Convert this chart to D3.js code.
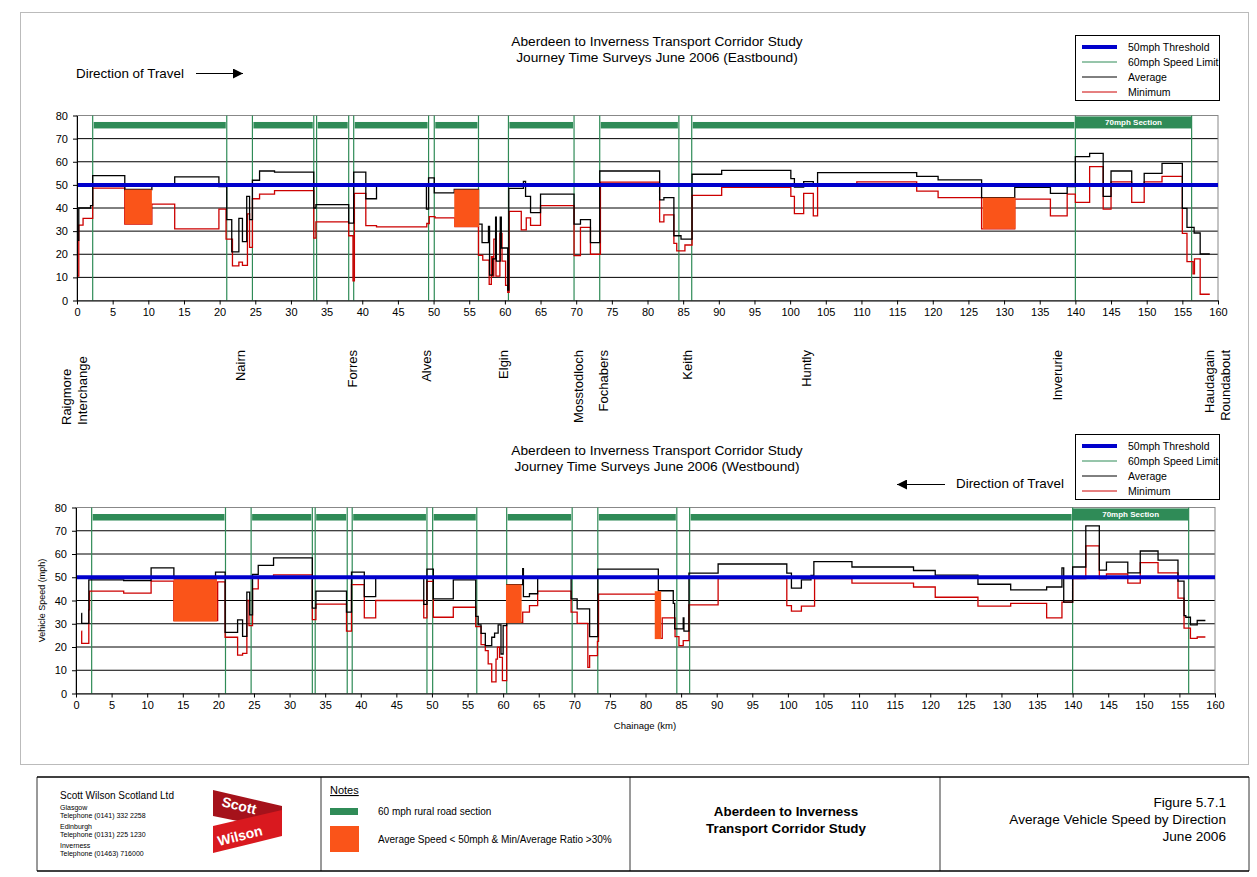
<!DOCTYPE html>
<html><head><meta charset="utf-8">
<script src="https://cdn.jsdelivr.net/npm/d3@7"></script>
<style>body{margin:0;background:#fff;} svg{display:block;font-family:Arial,"Liberation Sans",sans-serif;}</style>
</head><body><svg id="c" width="1257" height="877"></svg>
<script>
// ---------- data ----------
const xTicks = d3.range(0, 161, 5);
const yTicks = d3.range(0, 81, 10);
const threshold = 50;
const limitBoundaries = [2.2, 21, 24.6, 33.2, 33.6, 38.1, 38.8, 49.3, 50.1, 56.3, 60.5, 69.7, 73.3, 84.4, 86.2, 140, 156.3];
const ruralSections = [[2.2, 21], [24.6, 33.2], [33.6, 38.1], [38.8, 49.3], [50.1, 56.3], [60.5, 69.7], [73.3, 84.4], [86.2, 140]];
const section70 = [140, 156.3];
const legendLabels = ["50mph Threshold", "60mph Speed Limit", "Average", "Minimum"];

const eastAvg = [[0.1,26],[0.25,40],[1.9,41],[2.2,54],[6.7,48],[10.5,50],[13.7,53.5],[19.9,49.3],[21.0,35],[21.7,21],[22.7,35.5],[23.2,25.5],[23.8,45],[24.2,35],[24.6,52],[25.6,56],[27.7,55.5],[33.2,40],[33.5,41.5],[38.1,33.5],[38.8,55.5],[40.5,44],[42.0,50],[49.0,39.5],[49.3,53],[50.1,46.5],[52.9,48],[56.3,33],[56.8,25],[57.7,32],[57.85,11],[58.3,18],[58.7,36],[58.8,17],[59.35,36],[59.5,22.7],[60.4,4.5],[60.55,48.5],[62.6,51.5],[62.9,45],[63.6,38],[65.0,46],[69.7,33],[70.6,35],[72.0,25],[73.3,56],[81.7,43.5],[82.3,44.5],[83.7,28],[84.7,26.5],[86.25,54.6],[90.4,56.3],[100.1,52.7],[100.6,49],[101.9,51.4],[103.25,49.5],[103.85,55.3],[117.75,53.7],[120.75,52.2],[126.85,44.5],[131.5,48.9],[136.5,46.3],[138.85,49.3],[140,62.2],[142,63.6],[143.9,45],[145,56],[147.9,49.9],[149.65,55],[152.15,59.3],[155,39.8],[155.65,31.6],[156.65,29.2],[157.5,20.1],[158.85,20.1]];
const eastMin = [[0.1,10.5],[0.25,32.6],[0.85,35.5],[2.2,48.6],[6.7,33],[10.5,41.7],[13.7,31],[19.9,39.5],[20.9,26.5],[21.8,15],[22.7,16.6],[23.2,15.2],[23.9,37.5],[24.2,23],[24.6,44],[25.6,46],[27.7,47.5],[33.2,27],[33.5,34],[38.1,28],[38.7,8.5],[38.9,46.3],[40.5,32.4],[42.0,31.8],[49.05,33.3],[49.4,36.3],[50.2,35.7],[53.0,32],[56.3,19.5],[56.9,17.5],[57.8,7],[58.1,19],[58.3,10.5],[58.45,26.5],[58.75,10.5],[59.3,29],[59.6,17],[60.1,6.5],[60.4,3.5],[60.6,38.5],[62.3,30.5],[63.0,35.7],[63.6,32.5],[65.0,41],[69.7,19.4],[70.6,31.6],[72.0,20],[73.4,51.2],[81.7,34],[82.3,37],[83.7,24.7],[84.1,21.5],[85.25,24],[86.25,45.5],[90.4,48.9],[100.1,45],[100.6,37.6],[101.9,46.3],[103.25,36.6],[103.85,49.6],[109.35,51.3],[117.75,47.3],[120.75,44.5],[126.85,31],[131.5,43.8],[136.5,36.6],[138.85,46],[140,42.4],[142,57.9],[143.9,39.5],[145,51.3],[147.9,42.4],[149.65,51.3],[152.15,53.7],[155,29],[155.65,16.8],[156.5,11.5],[156.7,18],[157.5,2.7],[158.85,2.7]];
const eastFlags = [[6.7,10.5,33,48],[52.9,56.4,31.8,48],[127,131.6,31,44.5]];

const westAvg = [[0.75,34.5],[0.8,30.2],[1.8,48.9],[6.7,48.6],[10.55,54],[13.75,50],[19.6,52.2],[20.95,26.3],[22.7,31.7],[23.4,24.6],[24.0,43.6],[24.4,33.8],[24.8,51.2],[25.6,55.1],[27.75,58.3],[33.2,36.7],[33.7,44],[38.0,35],[38.7,52.2],[40.5,41.7],[42.1,50],[48.85,38.3],[49.3,53.5],[50.2,40.7],[53.0,48.9],[56.15,33.2],[56.5,29.5],[56.9,25.9],[57.5,20.6],[58.4,24.2],[58.8,26],[59.3,29.5],[59.7,17],[60.0,29.2],[60.5,46.8],[62.75,53.7],[62.85,41.7],[63.7,42.9],[64.85,50],[69.55,40.7],[70.4,36.4],[72.15,24.5],[73.3,53.5],[81.8,44.2],[83.9,38.8],[84.1,27.8],[85.3,32.5],[85.4,26.8],[86.1,51.8],[90.2,55.7],[99.85,51.8],[100.5,45.3],[101.9,48.9],[103.25,50.8],[103.65,56.7],[109.0,54.4],[117.65,52.9],[120.7,50.9],[126.7,47],[131.3,44.6],[136.35,45.8],[138.5,54],[138.75,39.3],[140,54.4],[141.85,72.1],[143.75,53.1],[144.75,56.5],[147.75,51.9],[149.5,61.3],[152,57.4],[154.8,48.3],[155.65,33.5],[155.9,32.8],[156.55,29.5],[157.5,31.4],[158.65,31.4]];
const westMin = [[0.75,26.8],[0.8,21.6],[1.8,36],[1.9,44],[6.7,43.2],[10.55,48.3],[13.75,31.4],[19.9,48],[20.95,24.2],[22.7,16.5],[23.4,17.3],[24.0,40],[24.3,29.2],[24.8,45],[25.6,49.6],[27.75,51],[33.2,31.8],[33.7,38.4],[38.0,26.8],[38.7,46.8],[40.5,32.5],[42.1,40],[48.85,32.5],[49.3,48.2],[50.2,32.8],[53.0,37.1],[56.15,28.8],[56.9,21],[57.5,18.4],[57.9,12.7],[58.4,5],[59.0,14.8],[59.2,19.9],[59.5,15.5],[59.9,5.5],[60.5,30.6],[62.75,35],[63.7,37.8],[64.85,44],[69.55,35],[70.4,30.2],[71.9,11.2],[72.15,16.3],[73.25,22.4],[73.4,42.7],[81.8,23.7],[82.35,32.5],[84.15,24.5],[84.7,20.6],[85.3,22.7],[86.1,38.1],[90.2,49.4],[99.85,37.8],[100.5,35.4],[101.9,37.6],[103.75,49.4],[109,47.5],[117.65,45.8],[120.7,41.4],[126.7,37.6],[131.3,38.8],[136.35,32.5],[138.5,39.3],[140,49.4],[141.85,63.5],[143.75,49.4],[144.75,51.4],[147.75,47.5],[149.5,56.3],[152,51.9],[154.8,41],[155.65,28.1],[156.55,23.7],[157.5,24.3],[158.65,24.3]];
const westFlags = [[13.7,19.8,31,49.9],[60.4,62.6,30.3,46.9],[81.3,82.2,23.4,44]];

const townNames = [["Raigmore","Interchange"],["Nairn"],["Forres"],["Alves"],["Elgin"],["Mosstodloch"],["Fochabers"],["Keith"],["Huntly"],["Inverurie"],["Haudagain","Roundabout"]];
const townKm = [-0.4, 22.9, 38.6, 49.0, 59.8, 70.2, 73.8, 85.6, 102.2, 137.4, 159.8];

// ---------- drawing ----------
const svg = d3.select("#c");
const GREEN = "#2f8b57", ORANGE = "#fa5419", BLUE = "#0000cc", RED = "#cc0000";

svg.append("rect").attr("x",20.5).attr("y",12.5).attr("width",1228).attr("height",752)
  .attr("fill","none").attr("stroke","#bbb").attr("stroke-width",1);

function drawChart(o) {
  const x = d3.scaleLinear([0,160],[o.x0,o.x1]);
  const y = d3.scaleLinear([0,80],[o.yB,o.yT]);
  const g = svg.append("g");
  g.selectAll(".grid").data(yTicks.filter(v=>v>0 && v<80)).join("line")
    .attr("x1",o.x0).attr("x2",o.x1).attr("y1",d=>y(d)).attr("y2",d=>y(d))
    .attr("stroke","#000").attr("stroke-width",1);
  g.append("rect").attr("x",o.x0).attr("y",y(80)).attr("width",o.x1-o.x0).attr("height",y(0)-y(80))
    .attr("fill","none").attr("stroke","#888");
  g.selectAll(".lim").data(limitBoundaries).join("line")
    .attr("x1",d=>x(d)).attr("x2",d=>x(d)).attr("y1",y(0)).attr("y2",y(80))
    .attr("stroke",GREEN).attr("stroke-width",1.2);
  const line = d3.line().x(d=>x(d[0])).y(d=>y(d[1])).curve(d3.curveStepAfter);
  g.append("path").attr("d",line(o.min)).attr("fill","none").attr("stroke",RED).attr("stroke-width",1.3);
  g.append("path").attr("d",line(o.avg)).attr("fill","none").attr("stroke","#000").attr("stroke-width",1.3);
  g.selectAll(".flag").data(o.flags).join("rect")
    .attr("x",d=>x(d[0])).attr("width",d=>x(d[1])-x(d[0]))
    .attr("y",d=>y(d[3])).attr("height",d=>y(d[2])-y(d[3])).attr("fill",ORANGE);
  g.append("line").attr("x1",x(0)).attr("x2",x(160)).attr("y1",y(threshold)).attr("y2",y(threshold))
    .attr("stroke",BLUE).attr("stroke-width",4);
  g.selectAll(".rural").data(ruralSections).join("rect")
    .attr("x",d=>x(d[0])+1).attr("width",d=>x(d[1])-x(d[0])-2)
    .attr("y",y(77.2)).attr("height",y(74.4)-y(77.2)).attr("fill",GREEN);
  g.append("rect").attr("x",x(section70[0])).attr("width",x(section70[1])-x(section70[0]))
    .attr("y",y(79.6)).attr("height",y(74.4)-y(79.6)).attr("fill",GREEN);
  g.append("text").attr("x",(x(section70[0])+x(section70[1]))/2).attr("y",y(79.6)+9)
    .attr("text-anchor","middle").attr("font-size",8).attr("font-weight","bold").attr("fill","#fff").text("70mph Section");
  const ax = g.append("g").attr("transform",`translate(0,${y(0)})`)
    .call(d3.axisBottom(x).tickValues(xTicks).tickSize(4).tickPadding(4).tickSizeOuter(0));
  const ay = g.append("g").attr("transform",`translate(${x(0)},0)`)
    .call(d3.axisLeft(y).tickValues(yTicks).tickSize(4).tickPadding(5).tickSizeOuter(0));
  [ax,ay].forEach(a=>{a.selectAll("text").attr("font-size",11).attr("font-family","Arial, 'Liberation Sans', sans-serif").attr("fill","#000");
    a.selectAll("line,path").attr("stroke","#000");});
  o.title.forEach((t,i)=>svg.append("text").attr("x",657).attr("y",o.titleY+i*16)
    .attr("text-anchor","middle").attr("font-size",13.7).text(t));
  const L = svg.append("g").attr("transform",`translate(1075,${o.legY})`);
  L.append("rect").attr("x",0.5).attr("y",0.5).attr("width",144).attr("height",65).attr("fill","#fff").attr("stroke","#000");
  const cols=[BLUE,GREEN,"#000",RED], ws=[4,1,1,1];
  legendLabels.forEach((t,i)=>{
    L.append("line").attr("x1",7).attr("x2",42).attr("y1",12+i*15).attr("y2",12+i*15).attr("stroke",cols[i]).attr("stroke-width",ws[i]);
    L.append("text").attr("x",53).attr("y",15.5+i*15).attr("font-size",10.5).text(t);
  });
  return x;
}

const xTop = drawChart({x0:77,x1:1218,yT:115.5,yB:300.5,avg:eastAvg,min:eastMin,flags:eastFlags,
  title:["Aberdeen to Inverness Transport Corridor Study","Journey Time Surveys June 2006 (Eastbound)"],titleY:46,legY:35});
const xBot = drawChart({x0:76,x1:1215,yT:507.5,yB:693.5,avg:westAvg,min:westMin,flags:westFlags,
  title:["Aberdeen to Inverness Transport Corridor Study","Journey Time Surveys June 2006 (Westbound)"],titleY:455,legY:434});

svg.append("defs").append("marker").attr("id","ah").attr("viewBox","0 0 10 10").attr("refX",10).attr("refY",5)
  .attr("markerWidth",10).attr("markerHeight",10).attr("markerUnits","userSpaceOnUse").attr("orient","auto")
  .append("path").attr("d","M0,0L10,5L0,10Z").attr("fill","#000");
svg.append("text").attr("x",76).attr("y",78).attr("font-size",13.4).text("Direction of Travel");
svg.append("line").attr("x1",196).attr("x2",243).attr("y1",73.5).attr("y2",73.5).attr("stroke","#000").attr("marker-end","url(#ah)");
svg.append("text").attr("x",956).attr("y",488).attr("font-size",13.4).text("Direction of Travel");
svg.append("line").attr("x1",945).attr("x2",897).attr("y1",484.5).attr("y2",484.5).attr("stroke","#000").attr("marker-end","url(#ah)");

svg.append("text").attr("transform","translate(45,600.5) rotate(-90)").attr("text-anchor","middle").attr("font-size",9).text("Vehicle Speed (mph)");
svg.append("text").attr("x",645).attr("y",729).attr("text-anchor","middle").attr("font-size",9.5).text("Chainage (km)");

townNames.forEach((names,i)=>{
  const cx = xTop(townKm[i]);
  names.forEach((n,j)=>{
    const bx = cx + 5 + (names.length>1 ? (j-0.5)*16 : 0);
    const first = i===0;
    svg.append("text").attr("transform",`translate(${bx},${first?425:350}) rotate(-90)`)
      .attr("text-anchor", first?"start":"end").attr("font-size",13).text(n);
  });
});

const F = svg.append("g");
F.append("line").attr("x1",37).attr("x2",1249).attr("y1",777).attr("y2",777).attr("stroke","#000").attr("stroke-width",1.5);
F.append("line").attr("x1",37).attr("x2",1249).attr("y1",871).attr("y2",871).attr("stroke","#000").attr("stroke-width",1.5);
[37,321,630,940,1249].forEach(xx=>F.append("line").attr("x1",xx).attr("x2",xx).attr("y1",777).attr("y2",871).attr("stroke","#000").attr("stroke-width",0.8));
F.append("text").attr("x",60).attr("y",799).attr("font-size",10).text("Scott Wilson Scotland Ltd");
[["Glasgow",810],["Telephone (0141) 332 2258",818],["Edinburgh",829],["Telephone (0131) 225 1230",837],["Inverness",848],["Telephone (01463) 716000",856]]
  .forEach(d=>F.append("text").attr("x",60).attr("y",d[1]).attr("font-size",7).text(d[0]));
F.append("path").attr("d","M213,790L282,806L282,830L213,816Z").attr("fill","#a5121b");
F.append("path").attr("d","M213,826L282,810L282,836L213,853Z").attr("fill","#d9191f");
F.append("text").attr("transform","translate(221,806) rotate(14)").attr("font-size",14).attr("font-weight","bold").attr("fill","#fff").text("Scott");
F.append("text").attr("transform","translate(219,846) rotate(-14)").attr("font-size",14).attr("font-weight","bold").attr("fill","#fff").text("Wilson");
F.append("text").attr("x",330).attr("y",794).attr("font-size",11).attr("text-decoration","underline").text("Notes");
F.append("rect").attr("x",330).attr("y",808).attr("width",28).attr("height",7).attr("fill",GREEN);
F.append("text").attr("x",378).attr("y",815).attr("font-size",10).text("60 mph rural road section");
F.append("rect").attr("x",330).attr("y",826).attr("width",29).attr("height",26).attr("fill",ORANGE);
F.append("text").attr("x",378).attr("y",843).attr("font-size",10).text("Average Speed < 50mph & Min/Average Ratio >30%");
F.append("text").attr("x",786).attr("y",816).attr("text-anchor","middle").attr("font-size",13.4).attr("font-weight","bold").text("Aberdeen to Inverness");
F.append("text").attr("x",786).attr("y",833).attr("text-anchor","middle").attr("font-size",13.4).attr("font-weight","bold").text("Transport Corridor Study");
[["Figure 5.7.1",807],["Average Vehicle Speed by Direction",824],["June 2006",841]]
  .forEach(d=>F.append("text").attr("x",1226).attr("y",d[1]).attr("text-anchor","end").attr("font-size",13.6).text(d[0]));
</script></body></html>
